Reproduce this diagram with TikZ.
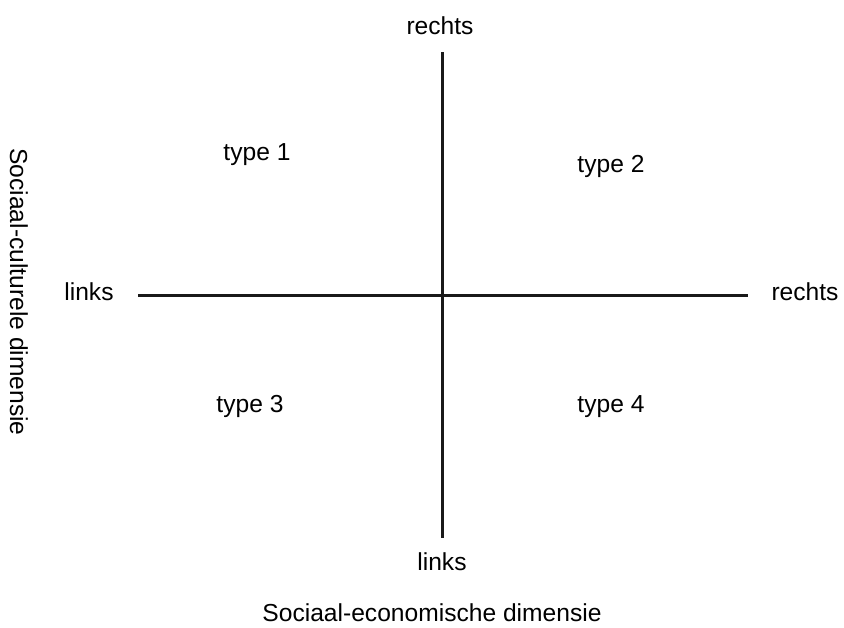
\documentclass[tikz,border=0pt]{standalone}
\usepackage{fontspec}
\setmainfont{Liberation Sans}
\begin{document}
\begin{tikzpicture}[x=1pt,y=-1pt,
  lbl/.style={inner sep=0pt,anchor=base,font=\fontsize{24.6}{28}\selectfont},
  axisline/.style={line width=3pt,draw=black!90}]
\useasboundingbox (0,0) rectangle (844,627);
\coordinate (vt) at (442,52);
\coordinate (vb) at (442,538);
\coordinate (hl) at (138,295);
\coordinate (hr) at (748,295);
\draw[axisline] (vt) -- (vb);
\draw[axisline] (hl) -- (hr);
\node[lbl] (rtop) at (440,34) {rechts};
\node[lbl] (lbot) at (442,570) {links};
\node[lbl] (lleft) at (89,300) {links};
\node[lbl] (rright) at (805,300) {rechts};
\node[lbl] (t1) at (257,160) {type 1};
\node[lbl] (t2) at (611,172) {type 2};
\node[lbl] (t3) at (250,412) {type 3};
\node[lbl] (t4) at (611,412) {type 4};
\node[lbl] (xt) at (432,621) {Sociaal-economische dimensie};
\node[lbl,anchor=center,rotate=-90] (yt) at (19,292) {Sociaal-culturele dimensie};
\end{tikzpicture}
\end{document}
